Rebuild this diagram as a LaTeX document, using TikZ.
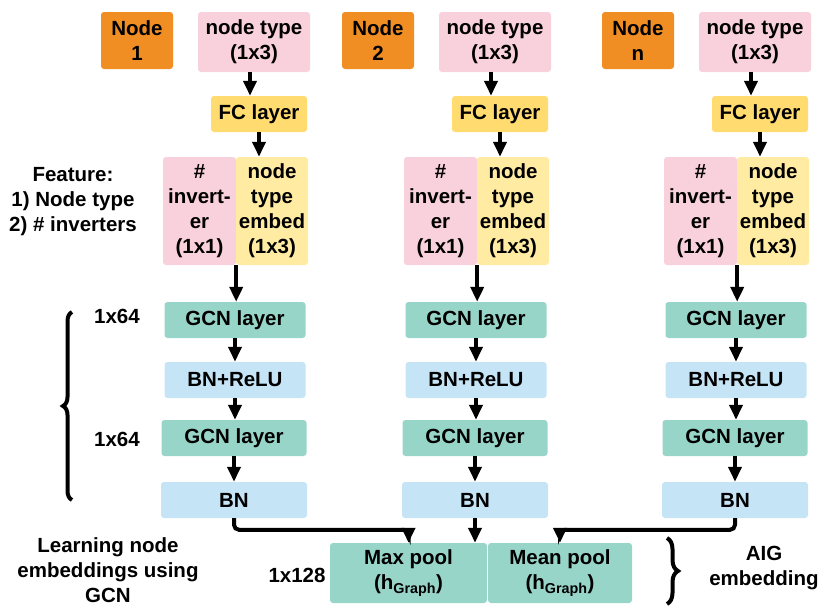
\documentclass[tikz,border=0pt]{standalone}
\usepackage{fontspec}
\setmainfont{Liberation Sans}
\usetikzlibrary{arrows.meta, calc, decorations.pathreplacing}

\definecolor{nodeorange}{RGB}{240,142,35}
\definecolor{typepink}{RGB}{249,209,220}
\definecolor{fcyellow}{RGB}{255,219,112}
\definecolor{embyellow}{RGB}{255,235,162}
\definecolor{gcnteal}{RGB}{152,213,201}
\definecolor{bnblue}{RGB}{197,228,246}

\begin{document}
\begin{tikzpicture}[
    x=1pt, y=-1pt,
    myarrow/.style={-{Triangle[length=15pt, width=13pt]}, line width=4pt},
    blk/.style={rounded corners=3pt, inner sep=0pt, align=center,
                font=\fontsize{20.5}{25}\bfseries\selectfont},
    lbl/.style={align=center, font=\fontsize{20.5}{25}\bfseries\selectfont},
    mybrace/.style={decorate, decoration={brace, amplitude=#1}, line width=4pt},
]

\useasboundingbox (0,0) rectangle (830,613);

% ===================== COLUMNS =====================
% one column per graph node: input -> FC -> feature -> GCN stack
\foreach \c/\lab [count=\i] in {236/1, 477/2, 737/n} {

    % node id and type
    \node[blk, fill=nodeorange, minimum width=72pt, minimum height=57pt]
        (node\i) at (\c-99, 40.5) {Node\\\lab};
    \node[blk, fill=typepink, minimum width=112pt, minimum height=60pt]
        (ntype\i) at (\c+18, 42) {node type\\(1x3)};

    % FC layer
    \node[blk, fill=fcyellow, minimum width=96pt, minimum height=36pt]
        (fc\i) at (\c+23, 114) {FC layer};

    % feature: inverter count + type embedding
    \node[blk, fill=typepink, minimum width=73pt, minimum height=108pt]
        (inv\i) at (\c-36.5, 211) {\#\\invert-\\er\\(1x1)};
    \node[blk, fill=embyellow, minimum width=72pt, minimum height=108pt]
        (emb\i) at (\c+36, 211) {node\\type\\embed\\(1x3)};

    % GCN stack
    \node[blk, fill=gcnteal, minimum width=141pt, minimum height=36pt]
        (gcnA\i) at (\c-1, 320) {GCN layer};
    \node[blk, fill=bnblue, minimum width=141pt, minimum height=36pt]
        (bnr\i) at (\c-1, 380) {BN+ReLU};
    \node[blk, fill=gcnteal, minimum width=145pt, minimum height=36pt]
        (gcnB\i) at (\c-2, 438) {GCN layer};
    \node[blk, fill=bnblue, minimum width=146pt, minimum height=36pt]
        (bn\i) at (\c-2, 500) {BN};

    % arrows down the column
    \draw[myarrow] ([xshift=-4pt]ntype\i.south) -- ([xshift=-4pt]ntype\i.south |- fc\i.north);
    \draw[myarrow] (fc\i.south) -- (fc\i.south |- emb\i.north);
    \draw[myarrow] (inv\i.south east) -- (inv\i.south east |- gcnA\i.north);
    \draw[myarrow] (gcnA\i.south) -- (gcnA\i.south |- bnr\i.north);
    \draw[myarrow] (bnr\i.south) -- (bnr\i.south |- gcnB\i.north);
    \draw[myarrow] (gcnB\i.south) -- (gcnB\i.south |- bn\i.north);
}

% ===================== POOLING =====================
\node[blk, fill=gcnteal, minimum width=157pt, minimum height=60pt]
    (maxp) at (408.5, 573) {Max pool\\(h\textsubscript{Graph})};
\node[blk, fill=gcnteal, minimum width=144pt, minimum height=60pt]
    (meanp) at (560, 573) {Mean pool\\(h\textsubscript{Graph})};

\draw[myarrow, rounded corners=5pt] (bn1.south) |- ($(maxp.north)+(0,-13)$) -- (maxp.north);
\draw[myarrow] (bn2.south) -- (bn2.south |- maxp.north);
\draw[myarrow, rounded corners=5pt] (bn3.south) |- ($(meanp.north)+(0,-13)$) -- (meanp.north);

% ===================== LABELS =====================
\node[lbl] (feat) at (73, 202) {Feature:\\1) Node type\\2) \# inverters};
\node[lbl] (dimA) at (117, 316) {1x64};
\node[lbl] (dimB) at (117, 439) {1x64};
\node[lbl] (dimC) at (297, 575) {1x128};
\node[lbl] (learn) at (108, 570) {Learning node\\embeddings using\\GCN};
\node[lbl] (aig) at (764, 568) {AIG\\embedding};

% braces
\coordinate (lbraceB) at (72, 500);
\coordinate (lbraceT) at (72, 312);
\draw[mybrace=9pt] (lbraceB) -- (lbraceT);
\coordinate (rbraceT) at (667, 538);
\coordinate (rbraceB) at (667, 604);
\draw[mybrace=11pt] (rbraceT) -- (rbraceB);

\end{tikzpicture}
\end{document}
